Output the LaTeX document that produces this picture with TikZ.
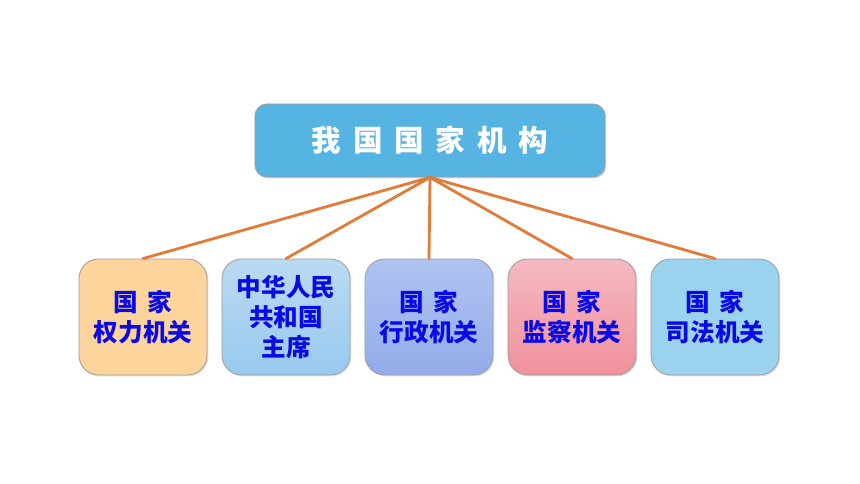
\documentclass[tikz,border=0pt]{standalone}
\usepackage{fontspec}
\newfontfamily\cjk{Noto Sans CJK SC}
\usepackage{tikz}
\usetikzlibrary{shadows}

\definecolor{topblue}{HTML}{56B4E2}
\definecolor{txtblue}{HTML}{0A0AE6}
\definecolor{linkorange}{HTML}{E07B39}
\definecolor{peach}{HTML}{FDD49B}
\definecolor{skyA}{HTML}{BBDAF2}
\definecolor{skyB}{HTML}{98C9EE}
\definecolor{lavA}{HTML}{B0C3F2}
\definecolor{lavB}{HTML}{92ACEA}
\definecolor{pinkA}{HTML}{F5B9C1}
\definecolor{pinkB}{HTML}{F0909C}
\definecolor{aqua}{HTML}{9BD2EE}

\newcommand{\gap}{\hspace{0.4em}}

\begin{document}
\begin{tikzpicture}[x=0.025cm, y=-0.025cm, line cap=round, line join=round,
  box/.style={draw=gray!75, line width=0.6pt, rounded corners=14pt,
    minimum width=3.2cm, minimum height=2.9cm, align=center, text=txtblue,
    font=\cjk\bfseries\fontsize{17.5}{21.5}\selectfont,
    drop shadow={shadow xshift=1pt, shadow yshift=-1pt, opacity=0.25}},
  link/.style={draw=linkorange, line width=2pt}]

\useasboundingbox (0,0) rectangle (860,484);

% Titolo
\node[draw=gray!75, line width=0.6pt, rounded corners=8.5pt, fill=topblue,
  minimum width=8.75cm, minimum height=1.825cm, text=white,
  font=\cjk\bfseries\fontsize{21}{25}\selectfont,
  drop shadow={shadow xshift=1pt, shadow yshift=-1pt, opacity=0.3}]
  (kj) at (430,140.5) {我\gap 国\gap 国\gap 家\gap 机\gap 构};

% Riquadri
\node[box, fill=peach] (b1) at (143,317) {国\gap 家\\权力机关};
\node[box, top color=skyA, bottom color=skyB] (b2) at (286,317) {中华人民\\共和国\\主席};
\node[box, top color=lavA, bottom color=lavB] (b3) at (429,317) {国\gap 家\\行政机关};
\node[box, top color=pinkA, bottom color=pinkB] (b4) at (572,317) {国\gap 家\\监察机关};
\node[box, fill=aqua] (b5) at (715,317) {国\gap 家\\司法机关};

% Collegamenti
\coordinate (hub) at (kj.south);
\foreach \i in {1,...,5}
  \draw[link] (hub) -- (b\i.north);

\end{tikzpicture}
\end{document}
